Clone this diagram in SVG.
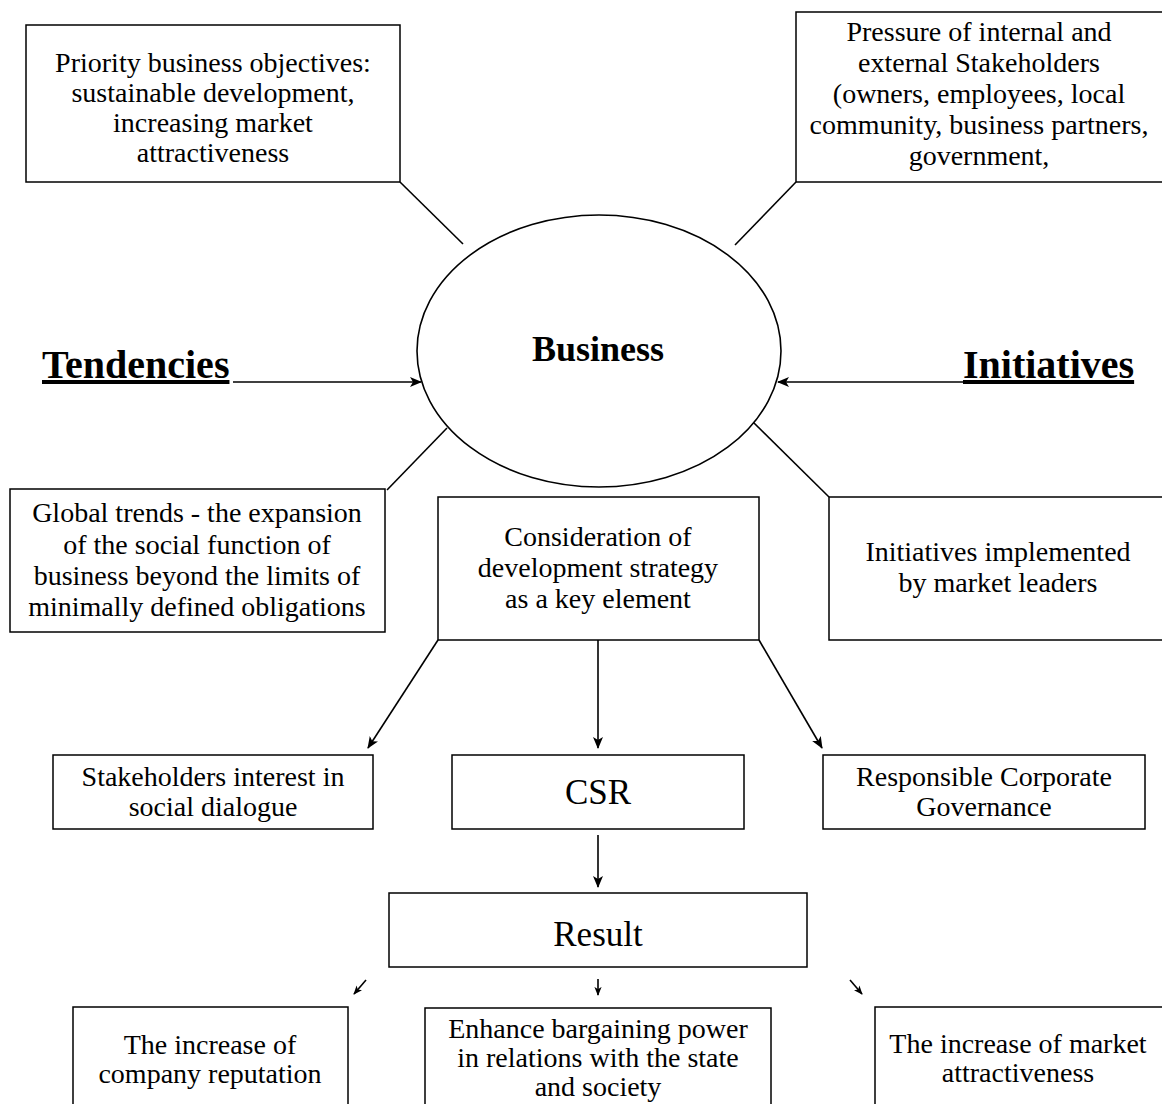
<svg xmlns="http://www.w3.org/2000/svg" width="1162" height="1104" viewBox="0 0 1162 1104">
  <style>
    .box { fill: #ffffff; stroke: #000000; stroke-width: 1.5; }
    .t { font-family: "Liberation Serif", "Times New Roman", serif; font-size: 28px; fill: #000000; text-anchor: middle; }
    .big { font-family: "Liberation Serif", "Times New Roman", serif; font-size: 35px; fill: #000000; text-anchor: middle; }
    .head { font-family: "Liberation Serif", "Times New Roman", serif; font-size: 40px; font-weight: bold; fill: #000000; text-decoration: underline; }
    .bus { font-family: "Liberation Serif", "Times New Roman", serif; font-size: 36px; font-weight: bold; fill: #000000; text-anchor: middle; }
    .ln { fill: none; stroke: #000000; stroke-width: 1.6; }
    .arr { fill: none; stroke: #000000; stroke-width: 1.6; marker-end: url(#ah); }
    .sarr { fill: none; stroke: #000000; stroke-width: 1.6; marker-end: url(#ahs); }
  </style>
  <defs>
    <marker id="ah" viewBox="0 0 12 10" refX="11" refY="5" markerWidth="12" markerHeight="10" markerUnits="userSpaceOnUse" orient="auto">
      <path d="M0,0 L12,5 L0,10 L3,5 Z" fill="#000000"/>
    </marker>
    <marker id="ahs" viewBox="0 0 10 8" refX="9" refY="4" markerWidth="9" markerHeight="8" markerUnits="userSpaceOnUse" orient="auto">
      <path d="M0,0 L10,4 L0,8 L2.5,4 Z" fill="#000000"/>
    </marker>
  </defs>

  <g id="connectors">
    <line class="ln" x1="400" y1="182" x2="463" y2="244"/>
    <line class="ln" x1="796" y1="182" x2="735" y2="245"/>
    <line class="ln" x1="387" y1="490" x2="447" y2="428"/>
    <line class="ln" x1="829" y1="497" x2="753" y2="422"/>
    <line class="arr" x1="233" y1="382" x2="421" y2="382"/>
    <line class="arr" x1="963" y1="382" x2="778" y2="382"/>
    <line class="arr" x1="438" y1="640" x2="368" y2="748"/>
    <line class="arr" x1="598" y1="640" x2="598" y2="748"/>
    <line class="arr" x1="759" y1="640" x2="822" y2="748"/>
    <line class="arr" x1="598" y1="835" x2="598" y2="887"/>
    <line class="sarr" x1="366" y1="980" x2="354" y2="994"/>
    <line class="sarr" x1="598" y1="979" x2="598" y2="995"/>
    <line class="sarr" x1="850" y1="980" x2="862" y2="994"/>
  </g>

  <g id="business">
    <ellipse cx="599" cy="351" rx="182" ry="136" fill="#ffffff" stroke="#000000" stroke-width="1.6"/>
    <text class="bus" x="598" y="361">Business</text>
  </g>

  <g id="tendencies">
    <text class="head" x="42" y="378">Tendencies</text>
  </g>
  <g id="initiatives">
    <text class="head" x="963" y="378">Initiatives</text>
  </g>

  <g id="priority">
    <rect class="box" x="26" y="25" width="374" height="157"/>
    <text class="t" x="213" y="72">Priority business objectives:</text>
    <text class="t" x="213" y="102">sustainable development,</text>
    <text class="t" x="213" y="132">increasing market</text>
    <text class="t" x="213" y="162">attractiveness</text>
  </g>

  <g id="pressure">
    <rect class="box" x="796" y="12" width="374" height="170"/>
    <text class="t" x="979" y="41">Pressure of internal and</text>
    <text class="t" x="979" y="72">external Stakeholders</text>
    <text class="t" x="979" y="103">(owners, employees, local</text>
    <text class="t" x="979" y="134">community, business partners,</text>
    <text class="t" x="979" y="165">government,</text>
  </g>

  <g id="global">
    <rect class="box" x="10" y="489" width="375" height="143"/>
    <text class="t" x="197" y="522">Global trends - the expansion</text>
    <text class="t" x="197" y="554">of the social function of</text>
    <text class="t" x="197" y="585">business beyond the limits of</text>
    <text class="t" x="197" y="616">minimally defined obligations</text>
  </g>

  <g id="consideration">
    <rect class="box" x="438" y="497" width="321" height="143"/>
    <text class="t" x="598" y="546">Consideration of</text>
    <text class="t" x="598" y="577">development strategy</text>
    <text class="t" x="598" y="608">as a key element</text>
  </g>

  <g id="leaders">
    <rect class="box" x="829" y="497" width="341" height="143"/>
    <text class="t" x="998" y="561">Initiatives implemented</text>
    <text class="t" x="998" y="592">by market leaders</text>
  </g>

  <g id="stakeholders">
    <rect class="box" x="53" y="755" width="320" height="74"/>
    <text class="t" x="213" y="786">Stakeholders interest in</text>
    <text class="t" x="213" y="816">social dialogue</text>
  </g>

  <g id="csr">
    <rect class="box" x="452" y="755" width="292" height="74"/>
    <text class="big" x="598" y="804">CSR</text>
  </g>

  <g id="governance">
    <rect class="box" x="823" y="755" width="322" height="74"/>
    <text class="t" x="984" y="786">Responsible Corporate</text>
    <text class="t" x="984" y="816">Governance</text>
  </g>

  <g id="result">
    <rect class="box" x="389" y="893" width="418" height="74"/>
    <text class="big" x="598" y="946">Result</text>
  </g>

  <g id="reputation">
    <rect class="box" x="73" y="1007" width="275" height="110"/>
    <text class="t" x="210" y="1054">The increase of</text>
    <text class="t" x="210" y="1083">company reputation</text>
  </g>

  <g id="bargaining">
    <rect class="box" x="425" y="1008" width="346" height="110"/>
    <text class="t" x="598" y="1038">Enhance bargaining power</text>
    <text class="t" x="598" y="1067">in relations with the state</text>
    <text class="t" x="598" y="1096">and society</text>
  </g>

  <g id="attractiveness">
    <rect class="box" x="875" y="1007" width="300" height="110"/>
    <text class="t" x="1018" y="1053">The increase of market</text>
    <text class="t" x="1018" y="1082">attractiveness</text>
  </g>
</svg>
